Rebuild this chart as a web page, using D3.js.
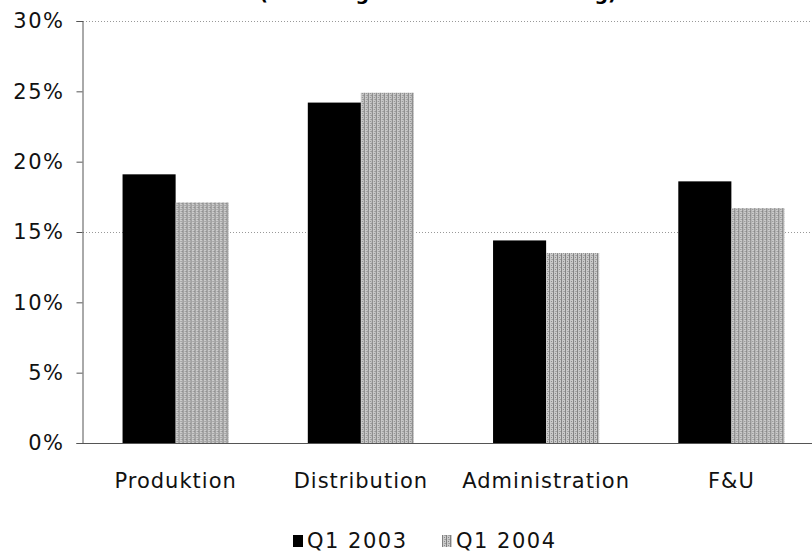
<!DOCTYPE html>
<html>
<head>
<meta charset="utf-8">
<script src="https://cdn.jsdelivr.net/npm/d3@7"></script>
<style>
    body { margin: 0; background: #fff; }
    svg { display: block; font-family: "DejaVu Sans", Verdana, sans-serif; }
</style>
</head>
<body>
<svg id="chart" width="812" height="554"></svg>
<script>
// data
let categories = ['Produktion', 'Distribution', 'Administration', 'F&U']
let seriesNames = ['Q1 2003', 'Q1 2004']
let q12003 = [19.1, 24.2, 14.4, 18.6]
let q12004 = [17.1, 24.9, 13.5, 16.7]
let yTicks = [0, 5, 10, 15, 20, 25, 30]
let gridTicks = [15, 30]
let titleText = '(Fordeling af samlet omkostning)'

let svg = d3.select('#chart')

// grey dithered fill of the 2004 series
let defs = svg.append('defs')
let pat = defs.append('pattern')
    .attr('id', 'dither')
    .attr('width', 4).attr('height', 4)
    .attr('patternUnits', 'userSpaceOnUse')
pat.append('rect').attr('width', 4).attr('height', 4).attr('fill', '#cbcbcb')
pat.append('rect').attr('x', 0).attr('width', 1).attr('height', 4).attr('fill', '#808080')
pat.append('rect').attr('x', 2).attr('y', 1).attr('width', 1).attr('height', 1).attr('fill', '#8a8a8a')
pat.append('rect').attr('x', 3).attr('y', 3).attr('width', 1).attr('height', 1).attr('fill', '#9e9e9e')
pat.append('rect').attr('x', 2).attr('y', 3).attr('width', 1).attr('height', 1).attr('fill', '#a8a8a8')

let fills = ['#000', 'url(#dither)']

let x0 = d3.scaleBand()
    .domain(categories)
    .range([83, 824])
    .paddingInner(0.427)
    .paddingOuter(0.2135)
let x1 = d3.scaleBand()
    .domain(seriesNames)
    .range([0, x0.bandwidth()])
let y = d3.scaleLinear()
    .domain([0, 30])
    .range([443, 21])

// title, mostly outside the frame as in the scan
svg.append('text')
    .attr('x', 438)
    .attr('y', -0.5)
    .attr('text-anchor', 'middle')
    .attr('font-size', 19)
    .attr('font-weight', 'bold')
    .text(titleText)

// dotted gridlines
svg.append('g').selectAll('line').data(gridTicks).enter().append('line')
    .attr('x1', 83).attr('x2', 812)
    .attr('y1', d => y(d) + 0.5).attr('y2', d => y(d) + 0.5)
    .attr('stroke', '#999')
    .attr('stroke-dasharray', '1,2')

// bars
let rows = categories.map((c, i) => ({cat: c, vals: [q12003[i], q12004[i]]}))
let grp = svg.append('g').selectAll('g').data(rows).enter().append('g')
    .attr('transform', d => 'translate(' + x0(d.cat) + ',0)')
grp.selectAll('rect')
    .data(d => d.vals.map((v, j) => ({s: seriesNames[j], v: v, j: j})))
    .enter().append('rect')
    .attr('x', d => x1(d.s))
    .attr('y', d => y(d.v))
    .attr('width', x1.bandwidth())
    .attr('height', d => y(0) - y(d.v))
    .attr('fill', d => fills[d.j])

// y axis
let yAxis = d3.axisLeft(y)
    .tickValues(yTicks)
    .tickSize(6)
    .tickPadding(12)
    .tickFormat(d => d + '%')
let yg = svg.append('g')
    .attr('transform', 'translate(82.5,0)')
    .call(yAxis)
yg.select('.domain').attr('stroke', '#555')
yg.selectAll('.tick line').attr('stroke', '#555')
yg.selectAll('.tick text')
    .attr('font-size', 21)
    .attr('letter-spacing', 1.5)
    .attr('font-family', '"DejaVu Sans", Verdana, sans-serif')
    .attr('fill', '#111')

// x axis
let xAxis = d3.axisBottom(x0).tickSize(0).tickPadding(0)
let xg = svg.append('g')
    .attr('transform', 'translate(0,443.5)')
    .call(xAxis)
xg.select('.domain').attr('stroke', '#555').attr('d', 'M82,0H812')
xg.selectAll('.tick text')
    .attr('dy', null)
    .attr('y', 44)
    .attr('font-size', 21)
    .attr('letter-spacing', 1)
    .attr('font-family', '"DejaVu Sans", Verdana, sans-serif')
    .attr('fill', '#111')

// legend
let legend = svg.append('g').attr('transform', 'translate(293,548)')
let offsets = [0, 149]
seriesNames.forEach((name, i) => {
    let item = legend.append('g').attr('transform', 'translate(' + offsets[i] + ',0)')
    item.append('rect')
        .attr('x', 0).attr('y', -13)
        .attr('width', 10).attr('height', 12)
        .attr('fill', fills[i])
    item.append('text')
        .attr('x', 14)
        .attr('font-size', 21)
        .attr('letter-spacing', 1.5)
        .attr('fill', '#111')
        .text(name)
})
</script>
</body>
</html>
